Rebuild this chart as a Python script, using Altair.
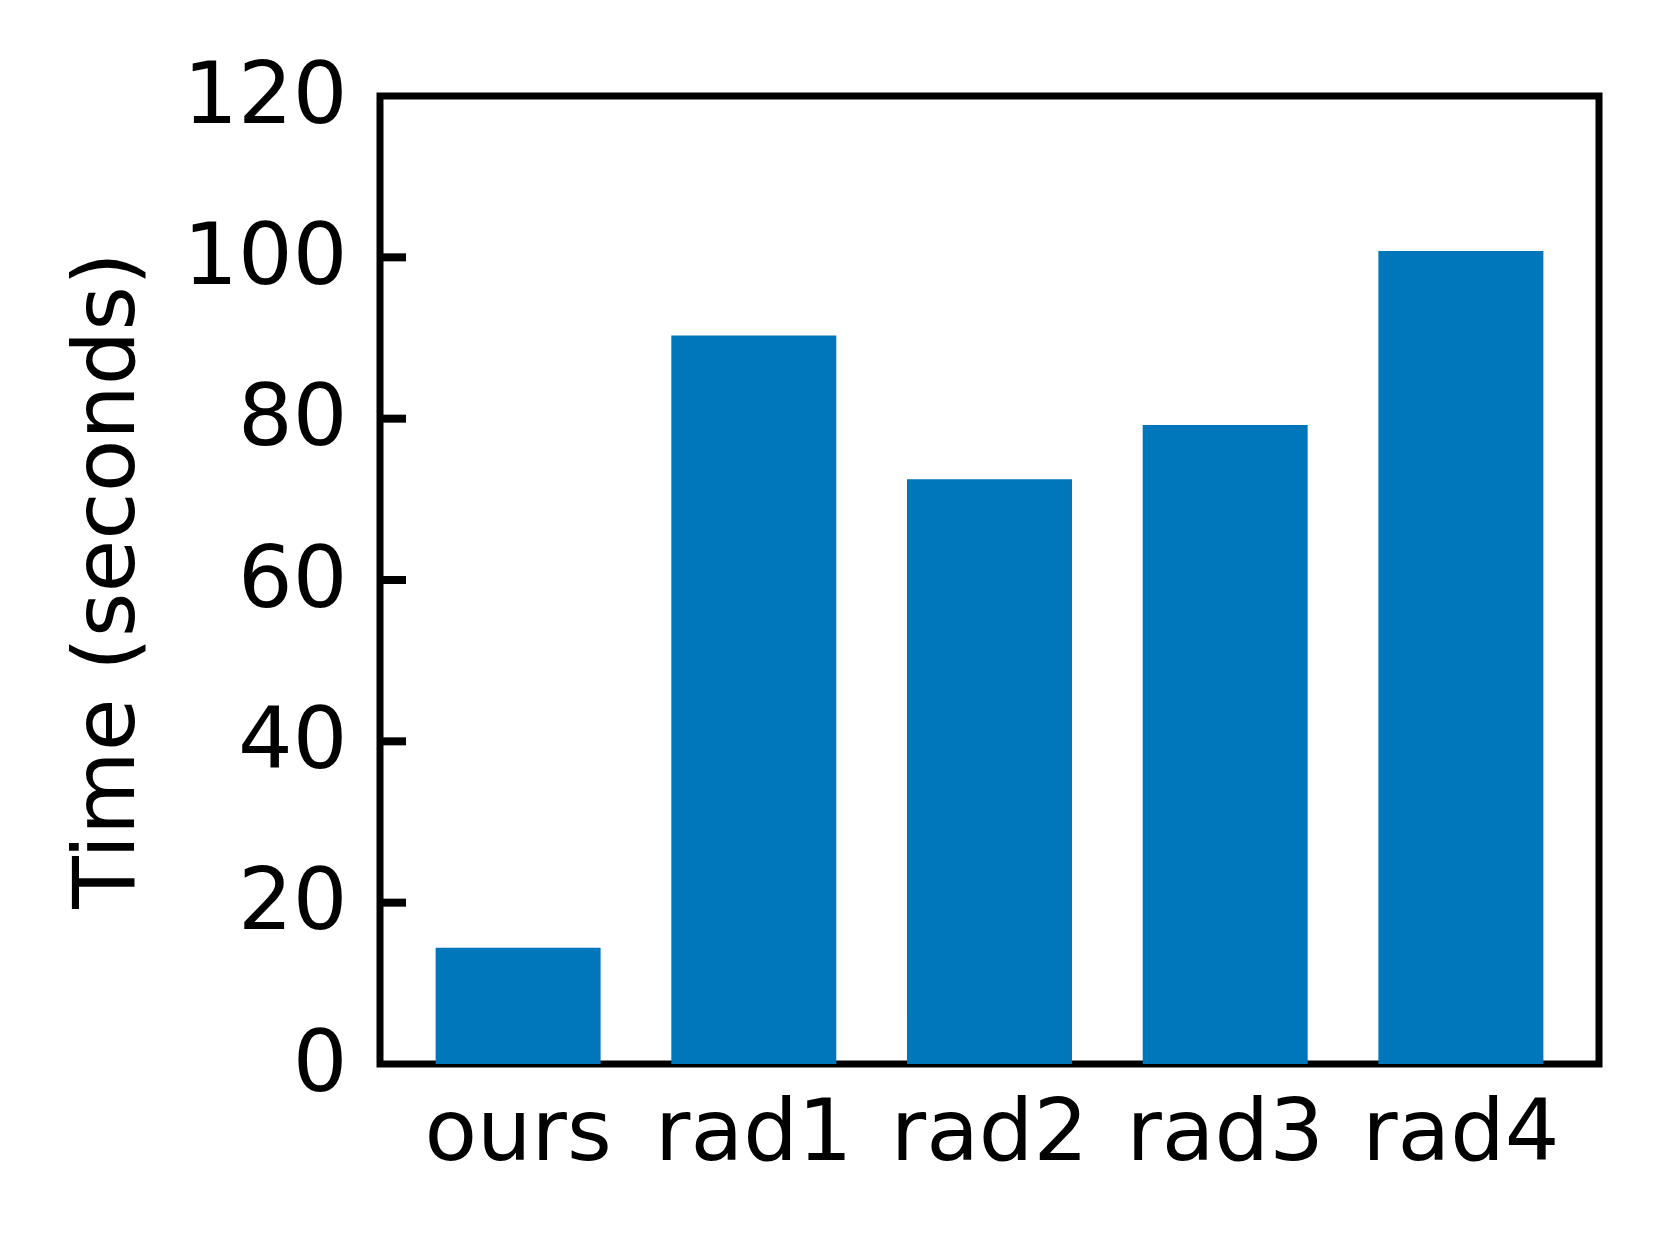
import altair as alt
import pandas as pd

categories = ["ours", "rad1", "rad2", "rad3", "rad4"]
times = [14.4, 90.3, 72.5, 79.2, 100.8]
y_ticks = [0, 20, 40, 60, 80, 100, 120]

bars_df = pd.DataFrame({"method": categories, "time": times})
ticks_df = pd.DataFrame({"tick": y_ticks})

FONT = "DejaVu Sans"

y_scale = alt.Scale(domain=[0, 120], nice=False, zero=True)

bars = alt.Chart(bars_df).mark_bar(color="#0077BB").encode(
    x=alt.X(
        "method:N",
        sort=categories,
        scale=alt.Scale(paddingInner=0.3, paddingOuter=0.236),
        axis=alt.Axis(
            title=None,
            labelAngle=0,
            ticks=False,
            domain=False,
            labelPadding=27,
            labelFontSize=86,
            labelFont=FONT,
            labelColor="black",
            labelLimit=0,
        ),
    ),
    y=alt.Y(
        "time:Q",
        scale=y_scale,
        axis=alt.Axis(
            title="Time (seconds)",
            values=y_ticks,
            ticks=False,
            domain=False,
            grid=False,
            labelPadding=33,
            labelFontSize=86,
            labelFont=FONT,
            labelColor="black",
            titleFontSize=86,
            titleFont=FONT,
            titleFontWeight="normal",
            titleColor="black",
            titlePadding=31,
        ),
    ),
)

# inward-pointing ticks (those at the ends are hidden under the frame)
ticks = (
    alt.Chart(ticks_df)
    .transform_filter((alt.datum.tick > 0) & (alt.datum.tick < 120))
    .mark_rule(color="black", strokeWidth=8)
    .encode(
        y=alt.Y("tick:Q", scale=y_scale),
        x=alt.value(0),
        x2=alt.value(26),
    )
)

chart = (
    alt.layer(bars, ticks)
    .properties(
        width=1219,
        height=968,
        autosize=alt.AutoSizeParams(type="none"),
        padding={"left": 372, "top": 88, "right": 55, "bottom": 171},
        background="white",
    )
    .configure_view(stroke="black", strokeWidth=7)
)

chart.save("out.html", embed_options={"renderer": "svg", "actions": False})
